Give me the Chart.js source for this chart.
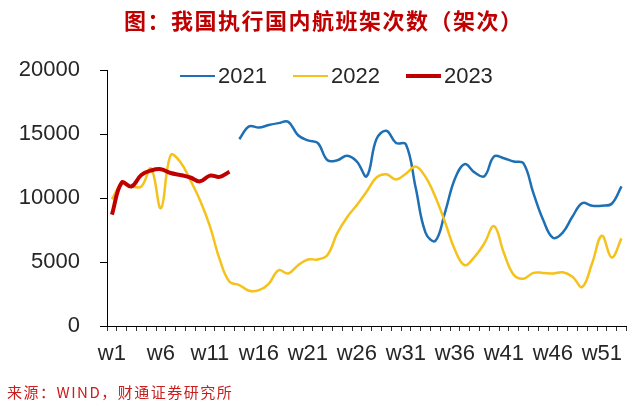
<!DOCTYPE html>
<html>
<head>
<meta charset="utf-8">
<script src="https://cdn.jsdelivr.net/npm/chart.js"></script>
<style>
  body { margin: 0; background: #fff; }
  #wrap { position: relative; width: 640px; height: 406px; overflow: hidden; }
  #title {
    position: absolute; left: 124px; top: 8px; white-space: nowrap;
    font: bold 22px "Noto Sans CJK SC"; line-height: 22px; letter-spacing: 1.5px;
    color: #C00000;
  }
  #source {
    position: absolute; left: 7px; top: 384px; white-space: nowrap;
    font: 15px "Noto Sans CJK SC"; line-height: 16px; letter-spacing: 1.5px;
    color: #C81E1E;
  }
  #legend {
    position: absolute; left: 180px; top: 63px; height: 26px;
    display: flex; align-items: center; gap: 26px;
    font: 22px "Liberation Sans"; color: #262626;
  }
  .item { display: flex; align-items: center; gap: 3px; }
  .swatch { width: 35px; }
</style>
</head>
<body>
<div id="wrap">
  <canvas id="chart" width="640" height="406"></canvas>
  <div id="title">图：我国执行国内航班架次数（架次）</div>
  <div id="legend"></div>
  <div id="source">来源：WIND，财通证券研究所</div>
</div>
<script>
// weeks w1..w53
const weeks = [];
for (let i = 1; i <= 53; i++) weeks.push('w' + i);

const seriesNames = ['2021', '2022', '2023'];
const seriesColors = ['#1F6FB5', '#F5C21B', '#C00000'];

// 2021 starts at w14
const y2021 = [null, null, null, null, null, null, null, null, null, null, null, null, null,
  14600, 15600, 15500, 15700, 15850, 15950, 14900, 14500, 14300, 12950,
  12950, 13300, 12850, 11700, 14600, 15250, 14300, 14200, 10800, 7300,
  6650, 8900, 11500, 12650, 12000, 11700, 13250, 13100, 12850, 12700,
  10400, 8300, 6900, 7300, 8550, 9600, 9400, 9400, 9550, 10900];

const y2022 = [9900, 11100, 10900, 10900, 12300, 9200, 13350, 12800, 11400, 9800,
  7800, 5200, 3450, 3200, 2750, 2800, 3300, 4350, 4100, 4750,
  5200, 5200, 5550, 7250, 8500, 9450, 10500, 11600, 11850, 11450,
  11900, 12450, 11650, 10100, 8100, 5950, 4750, 5400, 6450, 7800,
  5700, 4000, 3700, 4150, 4150, 4100, 4200, 3850, 3050, 4900,
  7050, 5350, 6850];

const y2023 = [8700, 11200, 10900, 11800, 12150, 12250, 11950, 11800, 11600, 11300,
  11750, 11650, 12050];

const yTicks = [0, 5000, 10000, 15000, 20000];

// legend
const widths = [2.5, 2.5, 4];
const leg = document.getElementById('legend');
seriesNames.forEach((name, i) => {
  const item = document.createElement('div');
  item.className = 'item';
  const sw = document.createElement('div');
  sw.className = 'swatch';
  sw.style.height = widths[i] + 'px';
  sw.style.background = seriesColors[i];
  const tx = document.createElement('span');
  tx.textContent = name;
  item.appendChild(sw);
  item.appendChild(tx);
  leg.appendChild(item);
});

const allSeries = [y2021, y2022, y2023];

new Chart(document.getElementById('chart'), {
  type: 'line',
  data: {
    labels: weeks,
    datasets: allSeries.map((d, i) => ({
      label: seriesNames[i],
      data: d,
      borderColor: seriesColors[i],
      backgroundColor: seriesColors[i],
      borderWidth: widths[i],
      pointRadius: 0,
      tension: 0.4,
      fill: false,
      order: 2 - i
    }))
  },
  options: {
    responsive: false,
    animation: false,
    devicePixelRatio: 1,
    layout: { padding: { left: 0, right: 13.6, top: 70, bottom: 0 } },
    plugins: {
      legend: { display: false },
      tooltip: { enabled: false }
    },
    scales: {
      x: {
        type: 'category',
        offset: true,
        afterFit: s => { s.height = 80; },
        border: { display: true, color: '#000', width: 1 },
        grid: { display: true, offset: true, drawOnChartArea: false, tickLength: 5, tickColor: '#333' },
        ticks: {
          autoSkip: false, maxRotation: 0, minRotation: 0, padding: 10,
          color: '#262626', font: { family: 'Liberation Sans', size: 22 },
          callback: (v, i) => (i % 5 === 0 ? weeks[i] : '')
        }
      },
      y: {
        min: 0, max: 20000,
        afterFit: s => { s.width = 107; },
        afterBuildTicks: s => { s.ticks = yTicks.map(v => ({ value: v })); },
        border: { display: true, color: '#000', width: 1 },
        grid: { display: true, drawOnChartArea: false, tickLength: 7, tickColor: '#000' },
        ticks: {
          padding: 20, color: '#262626', font: { family: 'Liberation Sans', size: 22 },
          callback: v => String(v)
        }
      }
    }
  }
});
</script>
</body>
</html>
